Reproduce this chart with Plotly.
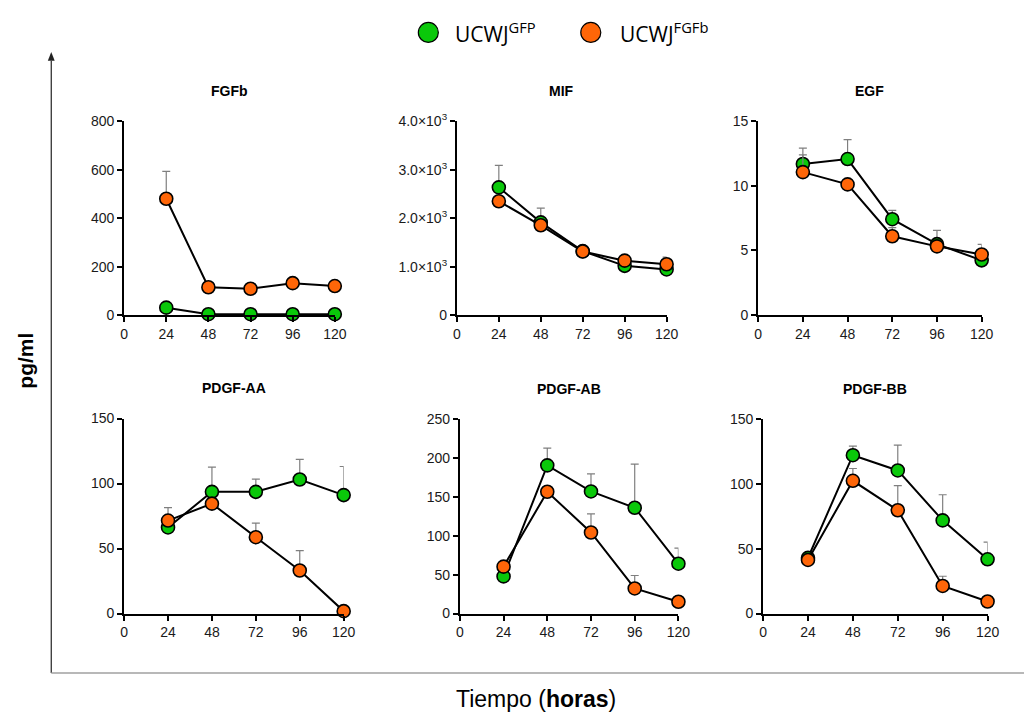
import plotly.graph_objects as go

# Sampling times (hours)
hours = [24, 48, 72, 96, 120]
x_ticks = [0, 24, 48, 72, 96, 120]

# Mean concentrations (pg/ml) and upper SD for each cytokine
fgfb_gfp = [31, 4, 4, 4, 4]
fgfb_gfp_sd = [0, 0, 0, 0, 0]
fgfb_fgfb = [480, 115, 109, 132, 120]
fgfb_fgfb_sd = [113, 0, 0, 0, 0]

mif_gfp = [2635, 1913, 1320, 1017, 943]
mif_gfp_sd = [455, 294, 0, 0, 0]
mif_fgfb = [2348, 1853, 1312, 1124, 1050]
mif_fgfb_sd = [0, 0, 0, 0, 147]

egf_gfp = [11.69, 12.07, 7.42, 5.49, 4.24]
egf_gfp_sd = [1.23, 1.50, 0.68, 1.06, 0]
egf_fgfb = [11.06, 10.11, 6.10, 5.32, 4.69]
egf_fgfb_sd = [1.34, 0, 0.67, 0, 0.78]

aa_gfp = [66.2, 93.6, 93.6, 103.1, 91.1]
aa_gfp_sd = [0, 19.0, 9.7, 15.5, 22.0]
aa_fgfb = [71.5, 84.5, 58.7, 33.1, 1.8]
aa_fgfb_sd = [10.0, 0, 10.8, 15.3, 0]

ab_gfp = [47.8, 190.9, 157.3, 136.3, 64.2]
ab_gfp_sd = [0, 22.1, 22.7, 56.2, 20.1]
ab_fgfb = [60.4, 156.9, 104.4, 32.3, 15.1]
ab_fgfb_sd = [5.9, 0, 24.0, 16.7, 0]

bb_gfp = [43.0, 122.4, 110.6, 72.0, 41.9]
bb_gfp_sd = [0, 7.0, 19.6, 19.8, 13.3]
bb_fgfb = [41.4, 102.6, 79.8, 21.3, 9.3]
bb_fgfb_sd = [0, 9.5, 19.0, 7.5, 0]

# y-axis ticks per panel
fgfb_yticks = [0, 200, 400, 600, 800]
mif_yticks = [0, 1000, 2000, 3000, 4000]
mif_yticktext = ["0", "1.0×10<sup>3</sup>", "2.0×10<sup>3</sup>",
                 "3.0×10<sup>3</sup>", "4.0×10<sup>3</sup>"]
egf_yticks = [0, 5, 10, 15]
aa_yticks = [0, 50, 100, 150]
ab_yticks = [0, 50, 100, 150, 200, 250]
bb_yticks = [0, 50, 100, 150]

series_names = ["UCWJ<sup>GFP</sup>", "UCWJ<sup>FGFb</sup>"]
GREEN = "#0AC80A"
ORANGE = "#FF6608"

W, H = 1036, 719

# panel boxes in pixels: (left, right, top, bottom)
panels = [
    dict(title="FGFb", box=(122, 336, 114, 313), yr=800, yt=fgfb_yticks, ytt=None,
         g=fgfb_gfp, gs=fgfb_gfp_sd, o=fgfb_fgfb, os=fgfb_fgfb_sd),
    dict(title="MIF", box=(460, 673, 114, 313), yr=4000, yt=mif_yticks, ytt=mif_yticktext,
         g=mif_gfp, gs=mif_gfp_sd, o=mif_fgfb, os=mif_fgfb_sd),
    dict(title="EGF", box=(766, 993, 114, 313), yr=15, yt=egf_yticks, ytt=None,
         g=egf_gfp, gs=egf_gfp_sd, o=egf_fgfb, os=egf_fgfb_sd),
    dict(title="PDGF-AA", box=(122, 345, 419, 619), yr=150, yt=aa_yticks, ytt=None,
         g=aa_gfp, gs=aa_gfp_sd, o=aa_fgfb, os=aa_fgfb_sd),
    dict(title="PDGF-AB", box=(463, 685, 420, 619), yr=250, yt=ab_yticks, ytt=None,
         g=ab_gfp, gs=ab_gfp_sd, o=ab_fgfb, os=ab_fgfb_sd),
    dict(title="PDGF-BB", box=(771, 999, 420, 619), yr=150, yt=bb_yticks, ytt=None,
         g=bb_gfp, gs=bb_gfp_sd, o=bb_fgfb, os=bb_fgfb_sd),
]

fig = go.Figure()
annotations = []
shapes = []
layout_axes = {}

TICKFONT = dict(family="Liberation Sans, Arial, sans-serif", size=14, color="#1a1a1a")

for i, p in enumerate(panels):
    n = "" if i == 0 else str(i + 1)
    xa, ya = "x" + n, "y" + n
    left, right, top, bottom = p["box"]
    xdom = [left / W, right / W]
    ydom = [1 - bottom / H, 1 - top / H]
    layout_axes["xaxis" + n] = dict(
        domain=xdom, range=[0, 120], tickvals=x_ticks, anchor=ya,
        showline=True, linecolor="black", linewidth=2, ticks="outside",
        ticklen=5, tickwidth=2, tickcolor="black", showgrid=False, zeroline=False,
        tickfont=TICKFONT, fixedrange=True,
    )
    yax = dict(
        domain=ydom, range=[0, p["yr"]], tickvals=p["yt"], anchor=xa,
        showline=True, linecolor="black", linewidth=2, ticks="outside",
        ticklen=5, tickwidth=2, tickcolor="black", showgrid=False, zeroline=False,
        tickfont=TICKFONT, fixedrange=True,
    )
    if p["ytt"] is not None:
        yax["ticktext"] = p["ytt"]
    layout_axes["yaxis" + n] = yax

    for vals, sd, col, name in ((p["g"], p["gs"], GREEN, series_names[0]),
                                (p["o"], p["os"], ORANGE, series_names[1])):
        fig.add_trace(go.Scatter(
            x=hours, y=vals, xaxis=xa, yaxis=ya, mode="lines+markers",
            name=name, showlegend=False, cliponaxis=False,
            line=dict(color="black", width=2),
            marker=dict(size=13, color=col, line=dict(color="black", width=1.6)),
            error_y=dict(type="data", array=sd, arrayminus=[0] * len(sd),
                         symmetric=False, color="#7f7f7f", thickness=1.2, width=4),
        ))

    annotations.append(dict(
        text="<b>%s</b>" % p["title"], x=(left + right) / 2 / W, y=1 - (top - 31) / H,
        xref="paper", yref="paper", showarrow=False, xanchor="center", yanchor="middle",
        font=dict(family="Liberation Sans, Arial, sans-serif", size=14, color="black"),
    ))

# legend entries
legend_items = [(431, 456, GREEN, series_names[0]), (596, 624, ORANGE, series_names[1])]
for cx, tx, col, name in legend_items:
    shapes.append(dict(
        type="circle", xref="paper", yref="paper", xsizemode="pixel", ysizemode="pixel",
        xanchor=cx / W, yanchor=1 - 23 / H, x0=-10, x1=10, y0=-10, y1=10,
        fillcolor=col, line=dict(color="black", width=1.2),
    ))
    annotations.append(dict(
        text=name, x=tx / W, y=1 - 23 / H, xref="paper", yref="paper",
        showarrow=False, xanchor="left", yanchor="middle",
        font=dict(family="Open Sans, Noto Sans, sans-serif", size=21, color="black"),
    ))

# outer frame: vertical axis with arrow, horizontal baseline
shapes.append(dict(type="line", xref="paper", yref="paper",
                   x0=48 / W, x1=48 / W, y0=1 - 680 / H, y1=1 - 52 / H,
                   line=dict(color="#222222", width=1.2)))
shapes.append(dict(type="line", xref="paper", yref="paper",
                   x0=48 / W, x1=1.0, y0=1 - 680 / H, y1=1 - 680 / H,
                   line=dict(color="#a0a0a0", width=1.5)))
shapes.append(dict(type="path", xref="paper", yref="paper",
                   path="M %f %f L %f %f L %f %f Z" % (
                       44.5 / W, 1 - 52 / H, 51.5 / W, 1 - 52 / H, 48 / W, 1 - 43 / H),
                   fillcolor="#222222", line=dict(width=0)))

annotations.append(dict(
    text="<b>pg/ml</b>", x=22 / W, y=1 - 360 / H, xref="paper", yref="paper",
    showarrow=False, textangle=-90, xanchor="center", yanchor="middle",
    font=dict(family="Liberation Sans, Arial, sans-serif", size=21, color="black"),
))
annotations.append(dict(
    text="Tiempo (<b>horas</b>)", x=540 / W, y=1 - 707 / H, xref="paper", yref="paper",
    showarrow=False, xanchor="center", yanchor="middle",
    font=dict(family="Liberation Sans, Arial, sans-serif", size=23, color="black"),
))

fig.update_layout(
    width=W, height=H, margin=dict(l=0, r=0, t=0, b=0),
    paper_bgcolor="white", plot_bgcolor="white",
    showlegend=False, annotations=annotations, shapes=shapes,
    **layout_axes,
)

fig.write_html("out.html", config={"displayModeBar": False})
